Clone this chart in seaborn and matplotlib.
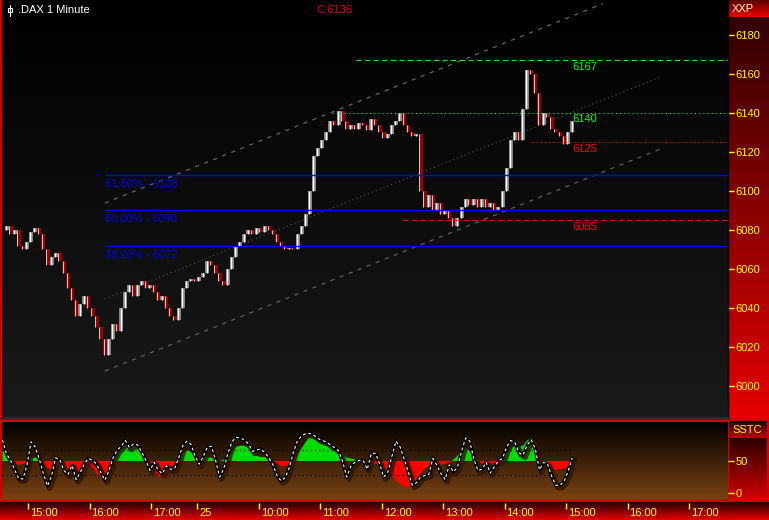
import numpy as np
import matplotlib
matplotlib.use("Agg")
import matplotlib.pyplot as plt
import matplotlib.patheffects as pe
import matplotlib.transforms as mtransforms
from matplotlib.colors import LinearSegmentedColormap
import seaborn as sns

# 4-minute closes, first bar ~14:35 on day one
closes = [6080, 6082, 6078, 6080, 6072, 6070, 6074, 6079, 6081, 6078,
          6070, 6062, 6066, 6068, 6064, 6058, 6050, 6044, 6036, 6042,
          6046, 6040, 6036, 6030, 6024, 6016, 6024, 6032, 6028, 6040,
          6048, 6052, 6046, 6052, 6054, 6050, 6052, 6048, 6044, 6046,
          6040, 6036, 6034, 6040, 6050, 6054, 6055, 6054, 6056, 6058,
          6064, 6062, 6058, 6054, 6052, 6060, 6066, 6072, 6074, 6078,
          6080, 6078, 6081, 6079, 6082, 6080, 6078, 6074, 6072, 6070,
          6071, 6070, 6078, 6082, 6088, 6100, 6118, 6122, 6126, 6130,
          6136, 6134, 6141, 6136, 6132, 6134, 6132, 6135, 6134, 6131,
          6137, 6134, 6130, 6127, 6129, 6134, 6136, 6140, 6134, 6130,
          6128, 6129, 6100, 6092, 6098, 6090, 6094, 6088, 6090, 6086,
          6082, 6086, 6092, 6096, 6093, 6096, 6092, 6096, 6092, 6094,
          6090, 6092, 6100, 6112, 6126, 6130, 6126, 6142, 6162, 6160,
          6150, 6134, 6140, 6138, 6132, 6130, 6128, 6124, 6130, 6136]

# SSTC oscillator and its signal (filled against 50)
sstc = [83, 61, 51, 36, 22, 22, 44, 80, 72, 53,
        30, 11, 27, 55, 52, 35, 29, 43, 21, 32,
        46, 54, 51, 45, 32, 20, 35, 55, 67, 73,
        82, 71, 77, 75, 64, 51, 35, 48, 36, 30,
        42, 37, 38, 55, 74, 81, 76, 58, 45, 57,
        72, 73, 51, 25, 38, 62, 80, 87, 86, 83,
        77, 65, 67, 69, 63, 55, 44, 27, 19, 24,
        40, 64, 82, 89, 93, 93, 90, 85, 82, 80,
        75, 71, 66, 49, 25, 42, 48, 51, 51, 37,
        62, 62, 46, 25, 32, 57, 81, 72, 53, 33,
        12, 16, 25, 27, 29, 54, 43, 30, 21, 44,
        33, 40, 65, 86, 81, 53, 35, 37, 48, 31,
        41, 50, 54, 72, 82, 79, 63, 59, 75, 83,
        69, 36, 48, 45, 26, 12, 12, 18, 34, 55]

sstc_signal = [66, 64, 58, 46, 44, 45, 48, 56, 55, 53,
               45, 40, 36, 42, 45, 38, 32, 26, 24, 30,
               38, 44, 40, 30, 24, 22, 30, 48, 60, 68,
               74, 75, 73, 70, 64, 55, 45, 35, 26, 24,
               30, 40, 46, 50, 62, 67, 64, 55, 52, 54,
               56, 55, 52, 50, 52, 55, 65, 72, 74, 74,
               70, 64, 58, 56, 56, 53, 50, 46, 42, 42,
               44, 48, 60, 70, 80, 88, 85, 80, 77, 74,
               72, 70, 66, 60, 55, 54, 52, 50, 48, 46,
               45, 46, 44, 40, 35, 28, 20, 14, 10, 8,
               14, 22, 30, 38, 42, 40, 42, 44, 46, 47,
               52, 58, 66, 70, 66, 58, 52, 46, 44, 45,
               47, 50, 55, 62, 70, 75, 72, 74, 82, 86,
               70, 50, 44, 40, 38, 36, 37, 38, 42, 46]

bar_start = -25   # minutes from 15:00 on day one
bar_step = 4

tick_minutes = [0, 60, 120, 165, 225, 285, 345, 405, 465, 525, 585, 645]
tick_labels = ["15:00", "16:00", "17:00", "25", "10:00", "11:00",
               "12:00", "13:00", "14:00", "15:00", "16:00", "17:00"]
price_ticks = list(range(6000, 6181, 20))

fib_values = [6108, 6090, 6072]
fib_labels = ["61,80% - 6108", "50,00% - 6090", "38,20% - 6072"]
fib_from = 75

level_values = [6167, 6140, 6125, 6085]
level_from = [320, 297, 492, 366]

channel_x = [[75, 561], [75, 617], [75, 617]]
channel_y = [[6093.8, 6196.0], [6044.6, 6158.4], [6007.7, 6121.5]]

last_close = 6136

# ---------------------------------------------------------------
sns.set_theme(style="ticks")
plt.rcParams['font.family'] = ['Liberation Sans', 'DejaVu Sans']
plt.rcParams['lines.scale_dashes'] = False

W, H = 769, 520
fig = plt.figure(figsize=(W / 100, H / 100), dpi=100, facecolor="#d40000")
YEL = "#ffff00"
XMIN, XMAX = -25.4, 683


def box(x0, y0, x1, y1):
    return [x0 / W, 1 - y1 / H, (x1 - x0) / W, (y1 - y0) / H]


def paint(a, top, bottom):
    cmap = LinearSegmentedColormap.from_list("g", [bottom, top])
    grad = np.linspace(0, 1, 256).reshape(-1, 1)
    a.imshow(grad, cmap=cmap, aspect="auto", extent=[0, 1, 0, 1],
             transform=a.transAxes, origin="lower", zorder=0,
             interpolation="bilinear")


def bare(a):
    a.set_xticks([])
    a.set_yticks([])
    for s in a.spines.values():
        s.set_visible(False)
    a.set_xlim(0, 1)
    a.set_ylim(0, 1)


# right-hand price column
col = fig.add_axes(box(728, 0, 769, 418))
paint(col, "#2a0000", "#e60000")
bare(col)
hdr = fig.add_axes(box(728, 0, 769, 17))
paint(hdr, "#5a0000", "#ee0000")
bare(hdr)
hdr.text(0.08, 0.45, "XXP", color="#ffffc8", fontsize=8, va="center")

# oscillator column
col2 = fig.add_axes(box(729, 438, 767, 500))
paint(col2, "#2a0000", "#d40000")
bare(col2)
hdr2 = fig.add_axes(box(729, 421, 767, 438))
paint(hdr2, "#1a0000", "#c00000")
bare(hdr2)
hdr2.text(0.1, 0.45, "SSTC", color=YEL, fontsize=8, va="center")

# bottom time strip
strip_bg = fig.add_axes(box(0, 502, 769, 520))
paint(strip_bg, "#200000", "#e80000")
bare(strip_bg)

# ---- main price panel ----
ax = fig.add_axes(box(2, 0, 728, 418))
paint(ax, "#000000", "#1a1a1a")

x = bar_start + bar_step * np.arange(len(closes))
c = np.array(closes, dtype=float)
o = np.r_[c[0], c[:-1]]
up = c >= o
lo = np.minimum(o, c)
hi = np.maximum(o, c)

ax.vlines(x[up], lo[up], hi[up], color="#8a8a8a", lw=2.8, zorder=3)
ax.vlines(x[up] - 0.7, lo[up], hi[up], color="#ffffff", lw=1.0, zorder=4)
ax.vlines(x[~up], lo[~up], hi[~up], color="#a00000", lw=2.8, zorder=3)
ax.vlines(x[~up] - 1.3, lo[~up], hi[~up], color="#d0d0d0", lw=0.7, zorder=4)

# regression channel
ch_styles = [("#707070", (0, (3, 4))), ("#555555", (0, (0.8, 2.2))),
             ("#6a6a6a", (0, (3, 4)))]
for cx, cy, (colr, ls) in zip(channel_x, channel_y, ch_styles):
    sns.lineplot(x=cx, y=cy, ax=ax, color=colr, lw=0.8, linestyle=ls, zorder=2)

# fibonacci levels
for v, lbl in zip(fib_values, fib_labels):
    sns.lineplot(x=[fib_from, XMAX], y=[v, v], ax=ax, color="#0000ff",
                 lw=1.0, zorder=5)
    ax.annotate(lbl, xy=(fib_from, v), xytext=(0, -2.5), textcoords="offset points",
                va="top", ha="left", color="#0000f0", fontsize=8, zorder=6)

# support / resistance levels
lv_colors = ["#00ff00", "#00ff00", "#ff0000", "#ff0000"]
lv_styles = [(0, (3.6, 2.6)), (0, (0.8, 2.2)), (0, (0.8, 2.2)), (0, (3.6, 2.6))]
for v, x0, colr, ls in zip(level_values, level_from, lv_colors, lv_styles):
    sns.lineplot(x=[x0, XMAX], y=[v, v], ax=ax, color=colr, lw=0.8,
                 linestyle=ls, zorder=5)
    ax.annotate(str(v), xy=(531, v), xytext=(0, -1), textcoords="offset points",
                va="top", ha="left", color=colr, fontsize=8, zorder=6)

ax.set_xlim(XMIN, XMAX)
ax.set_ylim(5983.6, 6197.9)
ax.yaxis.tick_right()
ax.set_yticks(price_ticks)
ax.set_yticklabels([str(t) for t in price_ticks])
ax.tick_params(axis="y", colors=YEL, labelcolor=YEL, length=4, width=1,
               pad=1.5, labelsize=8)
ax.tick_params(axis="x", bottom=False, labelbottom=False)
ax.set_xlabel("")
ax.set_ylabel("")
for s in ["top", "left"]:
    ax.spines[s].set_visible(False)
ax.spines["right"].set_color("#000000")
ax.spines["right"].set_linewidth(1.0)
ax.spines["bottom"].set_color("#2c2c2c")
ax.spines["bottom"].set_linewidth(2.0)

ax.text(0.022, 0.976, ".DAX 1 Minute", transform=ax.transAxes, color="white",
        fontsize=8, va="center")
ax.text(0.4325, 0.976, "C:%d" % last_close, transform=ax.transAxes,
        color="#e00000", fontsize=8, va="center")
ax.plot([0.011, 0.011], [0.962, 0.989], transform=ax.transAxes, color="white", lw=0.8)
ax.plot([0.011], [0.976], transform=ax.transAxes, marker="s", ms=3.5,
        mfc="none", mec="white", mew=0.8)

# ---- SSTC panel ----
osc = fig.add_axes(box(2, 422, 728, 499), sharex=ax)
paint(osc, "#000000", "#7a4212")
sig = np.array(sstc_signal, dtype=float)
osc.fill_between(x, 50, sig, where=sig >= 50, interpolate=True,
                 color="#00dd00", lw=0, zorder=2)
osc.fill_between(x, 50, sig, where=sig < 50, interpolate=True,
                 color="#ff0000", lw=0, zorder=2)
for lvl in [67, 28]:
    sns.lineplot(x=[x[0], x[-1]], y=[lvl, lvl], ax=osc, color="#000000",
                 lw=1.0, linestyle=(0, (0.8, 2.2)), zorder=3)
sns.lineplot(x=x, y=sstc, ax=osc, color="#000000", lw=2.4, zorder=4,
             path_effects=[pe.Stroke(offset=(1.5, -1.5), linewidth=4,
                                     foreground="#2e1604", alpha=0.8),
                           pe.Normal()])
sns.lineplot(x=x, y=sstc, ax=osc, color="white", lw=0.8,
             linestyle=(0, (2, 2)), zorder=5)
osc.set_ylim(-9.4, 110.9)
osc.yaxis.tick_right()
osc.set_yticks([0, 50])
osc.set_yticklabels(["0", "50"])
osc.tick_params(axis="y", colors=YEL, labelcolor=YEL, length=4, width=1,
                pad=1.5, labelsize=8)
osc.tick_params(axis="x", bottom=False, labelbottom=False)
osc.set_xlabel("")
osc.set_ylabel("")
for s in osc.spines.values():
    s.set_visible(False)

# ---- time axis ----
strip = fig.add_axes(box(2, 503, 728, 520), sharex=ax)
strip.patch.set_alpha(0)
for s in strip.spines.values():
    s.set_visible(False)
strip.set_yticks([])
strip.set_xticks(tick_minutes)
strip.set_xticklabels(tick_labels)
strip.tick_params(axis="x", top=True, bottom=False, labeltop=False,
                  labelbottom=True, direction="in", length=4, width=1,
                  colors=YEL, labelcolor=YEL, pad=-8.6, labelsize=8)
shift = mtransforms.ScaledTranslation(2 / 100, 0, fig.dpi_scale_trans)
for lbl in strip.get_xticklabels():
    lbl.set_ha("left")
    lbl.set_transform(lbl.get_transform() + shift)
ax.set_xlim(XMIN, XMAX)

fig.savefig("out.png", dpi=100, facecolor=fig.get_facecolor())
